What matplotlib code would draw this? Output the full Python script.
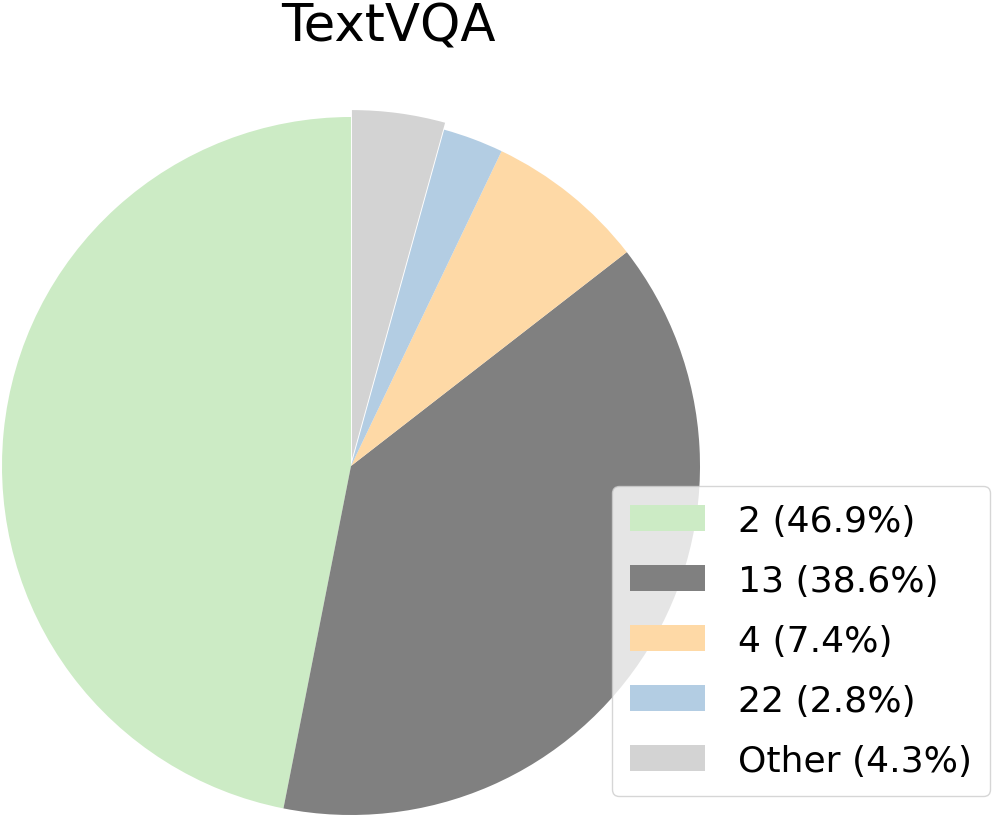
import matplotlib
matplotlib.use("Agg")
import matplotlib.pyplot as plt

title = "TextVQA"
labels = ["2", "13", "4", "22", "Other"]
shares = [46.9, 38.6, 7.4, 2.8, 4.3]
colors = ["#ccebc5", "#808080", "#fed9a6", "#b3cde3", "#d3d3d3"]
explode = [0, 0, 0, 0, 0.02]

plt.rcParams['font.family'] = ['DejaVu Sans']

fig = plt.figure(figsize=(9.95, 8.2), dpi=100)
ax = fig.add_axes([2/995, 4/820, 698/995, 698/820])
wedges, _ = ax.pie(shares, colors=colors, startangle=90, counterclock=True,
                   explode=explode, wedgeprops=dict(linewidth=0))
ax.set_xlim(-1, 1)
ax.set_ylim(-1, 1)
ax.set_aspect('equal')

fig.text(388/995, 1 - 28/820, title, ha='center', va='center', fontsize=37)

leg_labels = [f"{l} ({s}%)" for l, s in zip(labels, shares)]
fig.legend(wedges, leg_labels, loc='lower right',
           bbox_to_anchor=(990/995, 23/820), fontsize=26,
           handlelength=2.1, handleheight=0.72, labelspacing=0.72,
           borderpad=0.5, handletextpad=0.9, borderaxespad=0, fancybox=True)

fig.savefig("out.png", dpi=100)
